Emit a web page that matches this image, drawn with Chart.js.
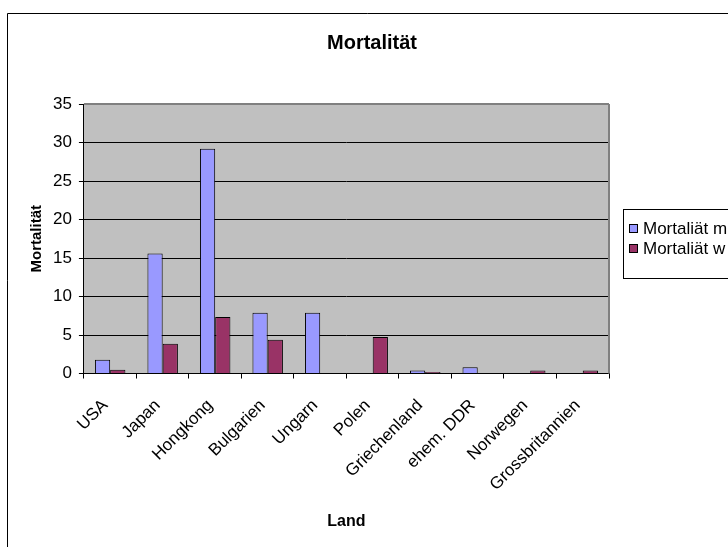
<!DOCTYPE html>
<html>
<head>
<meta charset="utf-8">
<script src="https://cdn.jsdelivr.net/npm/chart.js@4"></script>
<style>
  html, body { margin: 0; padding: 0; background: #ffffff; }
  #wrap { width: 728px; height: 547px; position: relative; }
</style>
</head>
<body>
<div id="wrap"><canvas id="chart" width="728" height="547"></canvas></div>
<script>
// Countries on the x axis
const laender = ['USA', 'Japan', 'Hongkong', 'Bulgarien', 'Ungarn', 'Polen',
  'Griechenland', 'ehem. DDR', 'Norwegen', 'Grossbritannien'];

// Mortality values
const mortalitaetM = [1.8, 15.6, 29.2, 7.9, 7.9, 0, 0.4, 0.8, 0, 0];
const mortalitaetW = [0.5, 3.85, 7.35, 4.4, 0, 4.75, 0.2, 0, 0.4, 0.4];

const chartTitle = 'Mortalität';
const seriesNames = ['Mortaliät m', 'Mortaliät w'];
const colors = { m: '#9999FF', w: '#993366' };
const font = 'Liberation Sans, Arial, sans-serif';

// Gray plot background + frame, outer chart border, title and the clipped legend box
const excelLook = {
  id: 'excelLook',
  beforeDraw(chart) {
    const { ctx, chartArea: a } = chart;
    ctx.save();
    ctx.fillStyle = '#ffffff';
    ctx.fillRect(0, 0, chart.width, chart.height);
    ctx.fillStyle = '#C0C0C0';
    ctx.fillRect(a.left, a.top, a.right - a.left, a.bottom - a.top);
    ctx.restore();
  },
  beforeDatasetsDraw(chart) {
    const { ctx, chartArea: a } = chart;
    ctx.save();
    ctx.strokeStyle = '#808080';
    ctx.lineWidth = 2;
    ctx.beginPath();
    ctx.moveTo(a.left, Math.round(a.top));
    ctx.lineTo(a.right, Math.round(a.top));
    ctx.moveTo(Math.round(a.right), a.top);
    ctx.lineTo(Math.round(a.right), a.bottom);
    ctx.stroke();
    ctx.restore();
  },
  afterDraw(chart) {
    const { ctx } = chart;
    ctx.save();
    ctx.strokeStyle = '#000000';
    ctx.lineWidth = 1;
    // chart frame: only top and left edges fall inside the picture
    ctx.beginPath();
    ctx.moveTo(7.5, chart.height);
    ctx.lineTo(7.5, 13.5);
    ctx.lineTo(chart.width, 13.5);
    ctx.stroke();

    // title sits off-centre (over the plot, not the whole chart)
    ctx.fillStyle = '#000000';
    ctx.font = 'bold 20px ' + font;
    ctx.textAlign = 'center';
    ctx.textBaseline = 'middle';
    ctx.fillText(chartTitle, 372, 43);

    // legend (runs off the right edge like the original)
    const lx = 623.5, ly = 209.5;
    ctx.fillStyle = '#ffffff';
    ctx.fillRect(lx, ly, 120, 69);
    ctx.strokeRect(lx, ly, 120, 69);
    ctx.font = '17px ' + font;
    ctx.textAlign = 'left';
    const rows = [[colors.m, 228], [colors.w, 248]];
    rows.forEach(([c, y], i) => {
      ctx.fillStyle = c;
      ctx.fillRect(629, y - 4, 9, 9);
      ctx.strokeRect(629.5, y - 3.5, 8, 8);
      ctx.fillStyle = '#000000';
      ctx.fillText(seriesNames[i], 643, y + 1);
    });
    ctx.restore();
  }
};

new Chart(document.getElementById('chart'), {
  type: 'bar',
  data: {
    labels: laender,
    datasets: [
      {
        label: seriesNames[0],
        data: mortalitaetM,
        backgroundColor: colors.m,
        borderColor: '#000000',
        borderWidth: 1,
        categoryPercentage: 0.58,
        barPercentage: 1
      },
      {
        label: seriesNames[1],
        data: mortalitaetW,
        backgroundColor: colors.w,
        borderColor: '#000000',
        borderWidth: 1,
        categoryPercentage: 0.58,
        barPercentage: 1
      }
    ]
  },
  options: {
    responsive: false,
    animation: false,
    layout: { padding: { top: 104, left: 24, right: 119, bottom: 12 } },
    plugins: {
      legend: { display: false },
      tooltip: { enabled: false },
      title: { display: false }
    },
    scales: {
      x: {
        grid: { drawOnChartArea: false, color: '#000000', tickLength: 5, offset: true },
        border: { color: '#000000' },
        ticks: {
          color: '#000000',
          font: { family: font, size: 17 },
          maxRotation: 45,
          minRotation: 45,
          padding: 17,
          labelOffset: -5
        },
        title: {
          display: true,
          text: 'Land',
          color: '#000000',
          font: { family: font, size: 16, weight: 'bold' },
          padding: { top: 0 }
        }
      },
      y: {
        min: 0,
        max: 35,
        grid: { color: '#000000', tickLength: 5 },
        border: { color: '#000000' },
        ticks: {
          stepSize: 5,
          color: '#000000',
          font: { family: font, size: 17 },
          padding: 7
        },
        title: {
          display: true,
          text: 'Mortalität',
          color: '#000000',
          font: { family: font, size: 15, weight: 'bold' },
          padding: { top: 4, bottom: 0 }
        }
      }
    }
  },
  plugins: [excelLook]
});
</script>
</body>
</html>
